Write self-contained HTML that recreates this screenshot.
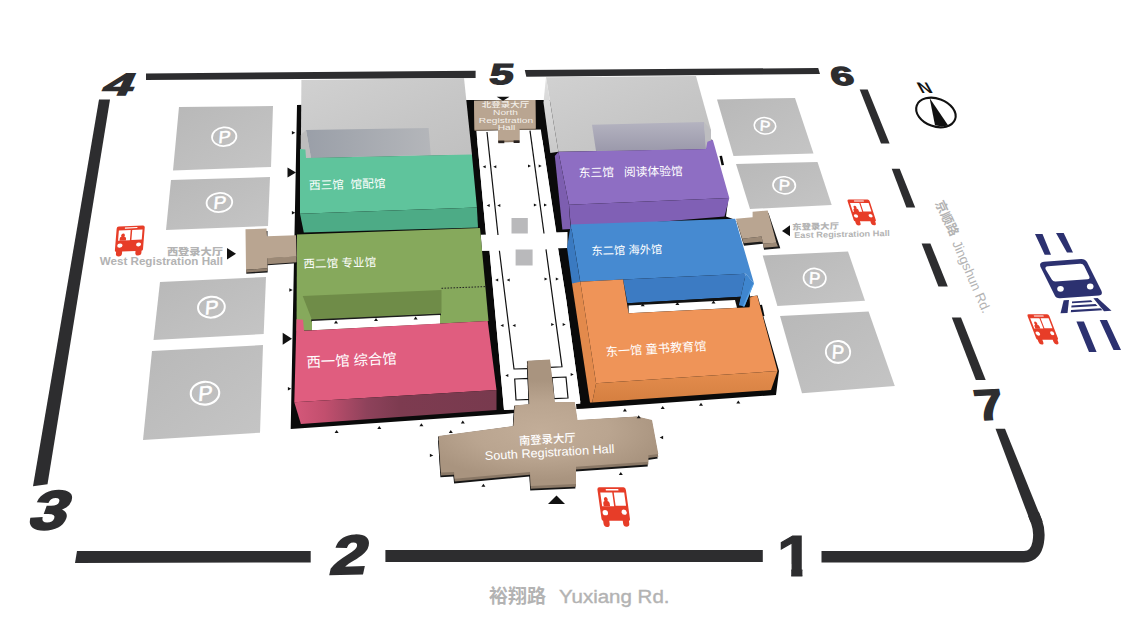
<!DOCTYPE html>
<html lang="zh">
<head>
<meta charset="utf-8">
<title>Venue Map</title>
<style>
html,body{margin:0;padding:0;background:#fff;}
body{width:1133px;height:637px;overflow:hidden;position:relative;}
svg{position:absolute;left:0;top:0;display:block;}
text{font-family:"Liberation Sans","Noto Sans CJK SC",sans-serif;}
.cn{font-family:"Liberation Sans","Noto Sans CJK SC",sans-serif;font-weight:400;fill:#fff;}
.num{font-family:"Liberation Sans",sans-serif;font-weight:700;fill:#2d2d2f;stroke:#2d2d2f;stroke-width:1.3px;}
text{white-space:pre;}
.gr{fill:#b3b3b3;}
</style>
</head>
<body>
<svg width="1133" height="637" viewBox="0 0 1133 637">
<defs>
  <linearGradient id="gPark" x1="0" y1="0" x2="1" y2="1">
    <stop offset="0" stop-color="#b8b8b8"/><stop offset="1" stop-color="#c5c5c5"/>
  </linearGradient>
  <linearGradient id="gPink" x1="0" y1="0" x2="1" y2="0">
    <stop offset="0" stop-color="#d5587a"/><stop offset="0.15" stop-color="#c24f6e"/><stop offset="0.36" stop-color="#8e425b"/><stop offset="0.52" stop-color="#7d3b50"/><stop offset="1" stop-color="#783a4e"/>
  </linearGradient>
  <linearGradient id="gRecW" x1="0" y1="0" x2="1" y2="0">
    <stop offset="0" stop-color="#9a9fa8"/><stop offset="1" stop-color="#b4b6ba"/>
  </linearGradient>
  <linearGradient id="gRecE" x1="0" y1="0" x2="0" y2="1">
    <stop offset="0" stop-color="#b4b3c0"/><stop offset="1" stop-color="#9b99ab"/>
  </linearGradient>
  <linearGradient id="gGrey" x1="0" y1="0" x2="1" y2="1">
    <stop offset="0" stop-color="#d1d1d1"/><stop offset="0.6" stop-color="#c6c6c6"/><stop offset="1" stop-color="#c0c0c0"/>
  </linearGradient>
  <linearGradient id="gOr" x1="0" y1="0" x2="0" y2="1">
    <stop offset="0" stop-color="#e48d4e"/><stop offset="1" stop-color="#d57f40"/>
  </linearGradient>
  <radialGradient id="gTan" gradientUnits="userSpaceOnUse" cx="540" cy="430" r="125" gradientTransform="translate(0,258) scale(1,0.4)">
    <stop offset="0" stop-color="#c2ad98"/><stop offset="0.55" stop-color="#baa590"/><stop offset="1" stop-color="#a9947f"/>
  </radialGradient>
  <linearGradient id="gWall" x1="0" y1="0" x2="0" y2="1">
    <stop offset="0" stop-color="#e0e0e0"/><stop offset="1" stop-color="#c9c9c9"/>
  </linearGradient>
  <symbol id="bus" viewBox="0 0 40 40" overflow="visible">
    <path fill="#e73d28" d="M5.5,0.6 L32.5,0.6 Q34.8,0.6 34.8,2.8 L34.8,26 Q34.8,27.5 33.3,27.5 L33.3,29.8 Q33.3,32.4 29.8,32.4 Q26.5,32.4 26.5,29.8 L26.5,27.5 L11.5,27.5 L11.5,29.8 Q11.5,32.6 8,32.6 Q4.7,32.6 4.7,29.8 L4.7,27.5 Q3.2,27.5 3.2,26 L3.2,2.8 Q3.2,0.6 5.5,0.6 Z"/>
    <path fill="#fff" d="M5.9,4.8 L19.2,4.8 L19.2,15.8 L5.9,15.8 Z M20.9,4.8 L32.5,4.8 L32.5,15.5 L20.9,15.5 Z M12.5,1.9 L26.5,1.9 L26.5,3.1 L12.5,3.1 Z"/>
    <path fill="#e73d28" d="M7.6,15.9 L7.6,13.4 Q7.6,11.9 9.4,11.7 Q8.7,10.8 9,9.7 Q9.6,8.3 11.1,8.3 Q12.7,8.4 13.1,9.9 Q13.2,10.9 12.6,11.7 Q14.6,11.9 14.7,13.4 L14.7,15.9 Z"/>
    <ellipse fill="#fff" cx="8.4" cy="21" rx="3" ry="2.2"/>
    <ellipse fill="#fff" cx="29.4" cy="20.6" rx="2.8" ry="2.1"/>
  </symbol>
  <g id="pk">
    <ellipse cx="0" cy="0" rx="12.2" ry="9.5" fill="none" stroke="#fff" stroke-width="1.8"/>
    <text transform="translate(-0.6,6) skewX(-10) scale(1.08,1)" text-anchor="middle" font-size="17" fill="#fff" stroke="#fff" stroke-width="0.5" style="font-family:'Liberation Sans',sans-serif">P</text>
  </g>
  <g id="pkE">
    <ellipse cx="0" cy="0" rx="12.2" ry="9.5" fill="none" stroke="#fff" stroke-width="1.8"/>
    <text transform="translate(0.4,6) skewX(3) scale(1.08,1)" text-anchor="middle" font-size="17" fill="#fff" stroke="#fff" stroke-width="0.5" style="font-family:'Liberation Sans',sans-serif">P</text>
  </g>
</defs>

<!-- ============ boundary roads ============ -->
<g fill="#2d2d2f">
  <polygon points="146,73.5 475.6,70.8 475.6,78 146,80"/>
  <polygon points="524.8,70 818.2,68 820,74 526.3,76.7"/>
  <polygon points="99,99.6 110,99.6 47.5,484.3 33,486.3"/>
  <polygon points="77,551 310.7,551 310.7,562.5 75,563"/>
  <polygon points="385.4,550 762.8,550 762.8,562 385.4,562"/>
  <polygon points="859.7,89.5 867.7,89.5 889.6,143.4 881,143.4"/>
  <polygon points="891.7,168.8 899.7,168.8 915.2,207.5 906.4,207.5"/>
  <polygon points="921.6,243.4 930.4,243.4 947.8,286.6 938.4,286.6"/>
  <polygon points="951.8,317.6 961,317.6 985.7,380 975.8,380"/>
</g>
<polygon points="995.5,428.7 1005,428.7 1042.6,521.8 1030.4,521.8" fill="#2d2d2f"/>
<path d="M1033.5,513.8 L1036.6,521.8 C1040,531 1041.5,556.7 1024,556.7 L821.5,556.7" fill="none" stroke="#2d2d2f" stroke-width="11.5" stroke-linejoin="round"/>

<!-- ============ parking lots ============ -->
<g fill="url(#gPark)">
  <polygon points="179,107 273,106 271,167 173,170.6"/>
  <polygon points="171,180 270,177 268,226 166,230"/>
  <polygon points="160,282 266,277 263.7,334 153.5,340"/>
  <polygon points="152,351 263,345 260,432.7 143,440"/>
  <polygon points="717,99.4 795,98 813.5,153.5 733.5,156"/>
  <polygon points="736,164 817.5,162 831.7,205 750,209"/>
  <polygon points="762.7,255.4 848,251.4 865,300.7 777.4,306"/>
  <polygon points="780,316 868.6,311.4 894.8,386 802,393.3"/>
</g>
<use href="#pk" transform="translate(224.2,136.7) rotate(-5) scale(1,0.98)"/>
<use href="#pk" transform="translate(219.4,202.5) rotate(-5) scale(1.05,1)"/>
<use href="#pk" transform="translate(211.4,307.2) rotate(-5) scale(1.1,1.1)"/>
<use href="#pk" transform="translate(205.0,393.2) rotate(-5) scale(1.17,1.2)"/>
<use href="#pkE" transform="translate(765.0,125.8) rotate(6) scale(0.88,0.86)"/>
<use href="#pkE" transform="translate(784.2,185.3) rotate(6) scale(0.92,0.9)"/>
<use href="#pkE" transform="translate(814.7,278.0) rotate(6) scale(0.92,1.0)"/>
<use href="#pkE" transform="translate(838.0,351.9) rotate(6) scale(1.0,1.15)"/>

<!-- ============ black bases ============ -->
<g fill="#0a0a0a">
  <polygon points="297,105 466.5,100 474.2,100.8 476.3,130.7 486,235 482,250.7 489.5,250.7 494,300 504,410 514,409.4 514,413 505,414 290.7,429"/>
  <polygon points="466.5,100 545,100 551,140 470,140"/>
  <polygon points="535,100 700,100 728.3,199 726,216.5 733,219 744,273 749,284 750,296.5 757.5,295.6 779,371 776,395 582.7,408.7 576.5,409 576,404 580.3,403.8 580.3,402 566.3,300 558,248 556.3,232 540.8,129.4 535.4,129"/>
  <polygon points="719.5,156 722,155.8 724,165 721.5,165.3"/>
  <polygon points="759.8,305 762,304.8 764.5,316 762.3,316.3"/>
</g>
<!-- corridor whites -->
<g fill="#fff">
  <polygon points="476.3,130.7 540.8,129.4 556.5,235 486,235"/>
  <polygon points="480.7,234.7 567.5,232 567.5,248 482,250.7"/>
  <polygon points="489.5,250.7 558,248 566.3,300 580.3,402 576,404 514,409.4 504,410 494,300"/>
</g>
<!-- corridor inner lines -->
<g fill="none" stroke="#111" stroke-width="1.2">
  <path d="M487,132 L498,235"/>
  <path d="M530,130.7 L544,233.5"/>
  <path d="M499.4,250.7 L514,369 L528,368.6"/>
  <path d="M546,249.4 L562,366.8 L550,367.4"/>
</g>
<rect x="511.5" y="218" width="16.3" height="15.5" fill="#b9b9bb"/>
<rect x="515.6" y="249.5" width="17" height="16" fill="#b9b9bb"/>
<g fill="#fff" stroke="#111" stroke-width="1.2">
  <polygon points="514.7,379 529.4,378.4 530.5,399.4 516,400"/>
  <polygon points="552,377.6 566,377 568,398 554,398.7"/>
</g>

<!-- ============ west grey building ============ -->
<polygon points="301.4,80 464,78 472,155 300.8,158" fill="url(#gGrey)"/>
<polygon points="306,130 428.6,128 430.8,155 311,158" fill="url(#gRecW)"/>
<polygon points="300.8,135 306,130 311,158 300.8,158" fill="#bdbdbd"/>

<!-- W3 -->
<polygon points="300,149 305.4,149.4 306,158 471.9,154.4 476.9,207.5 300,213.8" fill="#5fc49c"/>
<polygon points="300,213.8 476.9,207.5 478,227.5 303.8,232.6" fill="#4dab86"/>
<!-- W2 -->
<polygon points="297,234.5 480,228 488.5,321 296.5,331" fill="#86a95c"/>
<polygon points="302.7,296 441.5,290 441.5,313 312,320" fill="#6f8c48"/>
<polygon points="311,319.6 441,313.4 441,315.2 311.4,321.4" fill="#1c1c1c"/>
<polygon points="312,320.9 440,315 440,323.7 312,330.3" fill="#fff"/>
<path d="M441.5,288.3 L485.5,286.6" stroke="#222" stroke-width="1" stroke-dasharray="1.6,1.4" fill="none"/>
<!-- W1 -->
<polygon points="296.5,319.3 303,319.8 304,330.8 487.7,320.9 496.5,390 294.3,402.2" fill="#e05d7f"/>
<polygon points="294.3,402.2 496.5,390 496.5,410 300.9,424" fill="url(#gPink)"/>

<!-- ============ east grey building ============ -->
<polygon points="546,77.3 696,76 711,130 711,142 706,149 558.4,151.7" fill="url(#gGrey)"/>
<polygon points="546,77.3 558.4,151.7 550.3,153 543.5,102.4" fill="url(#gWall)"/>
<polygon points="592,124.7 704,122 706,149 596,151" fill="url(#gRecE)"/>
<polygon points="704,122 711,130 711,142 706,149" fill="#bdbdc0"/>
<!-- E3 -->
<polygon points="558.4,151.7 706,149 707.4,141.7 712.8,139.7 729.3,198 569,204.8" fill="#8e6ec3"/>
<polygon points="569,204.8 729.3,198 724.5,216.5 571,229" fill="#8060b5"/>
<polygon points="554.8,156 558.4,151.7 569,204.8 570.5,228.9 562.4,229.4" fill="#7d5eb0"/>
<!-- E2 -->
<polygon points="570.8,224.6 735.2,218.7 754,283.3 745.8,273.8 623,279.6 580.3,281.8" fill="#468ad1"/>
<polygon points="570.8,224.6 567,247.5 572,284 580.3,282.5" fill="#3a7ac1"/>
<polygon points="623,279.6 745.8,273.8 740.7,296.7 627.5,303.3" fill="#3c7bc3"/>
<polygon points="745.8,273.8 754,283.3 744.5,306.5 738.9,305.2 740.7,296.7" fill="#3f86cf"/>
<polygon points="752,285.8 754,283.3 744.5,306.5 742.7,306.5" fill="#5aa6e8"/>
<polygon points="749.6,297.5 755.2,296 756.5,305 750,306.5" fill="#d98548"/>
<polygon points="627,303.3 740.7,296.7 737.4,307.7 628.6,313.2" fill="#111"/>
<polygon points="628.6,305.5 735,300 737,307.7 628.6,313.2" fill="#fff"/>
<!-- E1 -->
<polygon points="580.3,281.8 623,279.6 628.6,313.2 749.5,307.3 751.7,296.7 757.2,295.6 777.5,371 596.1,383.2" fill="#ef9458"/>
<polygon points="596.1,383.2 777.5,371 771,390 592.2,402.5" fill="url(#gOr)"/>
<polygon points="572,283.5 580.3,281.8 596.1,383.2 592.2,402.5 590,402.6" fill="#e38a4c"/>

<!-- ============ tan halls ============ -->
<!-- north -->
<polygon points="474,100.8 535.4,100 535.7,129.4 519.4,129.7 519.4,142 498,142.4 498,130.2 474.5,130.7" fill="#8e7b68"/>
<polygon points="474,100.8 535.4,100 535.7,128.4 519.4,128.7 519.4,140.3 498,140.7 498,129.2 474.5,129.7" fill="#b9a591"/>
<rect x="498.3" y="140.6" width="6" height="2.6" fill="#2a2320"/><rect x="513.6" y="140.4" width="6" height="2.6" fill="#2a2320"/>
<!-- west -->
<polygon points="246,232 267.5,231 267.5,240 296.5,239 296.5,263.3 267.6,265.3 267.7,272.6 246.3,273.8" fill="#1a1a1a"/>
<polygon points="267.3,258 296.5,256.3 296.5,262.3 267.4,264.3" fill="#9c8976"/>
<polygon points="245.5,229.3 266.5,228.5 267,236.2 296,235.2 296.5,256.5 267.3,258.2 267.5,268.3 246,269.8" fill="#b9a591"/>
<polygon points="246,269.8 267.5,268.3 267.5,271 246.1,272.4" fill="#8f7d6b"/>
<!-- east -->
<polygon points="736.5,221 753,219.5 753,214 768.5,213 780.3,248.2 764,249.8 763,243.8 744,245.8 742.5,241" fill="#1a1a1a"/>
<polygon points="742.2,238.7 761.6,236.6 762.9,243.5 776.4,242.7 778,246.6 763.6,247.8 762.6,241.4 743.6,243.2" fill="#9c8976"/>
<polygon points="735.9,218.8 752.6,217.2 752.6,211.7 767.7,210.6 776.4,242.7 762.9,243.5 761.6,236.6 742.2,238.7" fill="#b9a591"/>
<!-- south -->
<polygon points="526.9,365.4 549.4,364.1 554.2,406.6 574.2,406.6 576.9,424.6 636.4,421.0 651.4,424.6 657.7,458.6 647.7,459.9 647.7,466.4 575.4,471.4 575.4,488.6 530.2,490.6 529.4,476.6 454.1,483.4 453.4,476.6 440.4,477.2 438.1,440.6 512.8,430.6 514.1,410.0 528.8,408.6" fill="#151515"/>
<polygon points="526.9,361.2 549.4,359.9 554.2,402.4 574.2,402.4 576.9,420.4 636.4,416.8 651.4,420.4 657.7,454.4 647.7,455.7 647.7,462.2 575.4,467.2 575.4,484.4 530.2,486.4 529.4,472.4 454.1,479.2 453.4,472.4 440.4,473.0 438.1,436.4 512.8,426.4 514.1,405.8 528.8,404.4" fill="#151515"/>
<polygon points="527.5,363.6 550.0,362.3 554.8,404.8 574.8,404.8 577.5,422.8 637.0,419.2 652.0,422.8 658.3,456.8 648.3,458.1 648.3,464.6 576.0,469.6 576.0,486.8 530.8,488.8 530.0,474.8 454.7,481.6 454.0,474.8 441.0,475.4 438.7,438.8 513.4,428.8 514.7,408.2 529.4,406.8" fill="#8a7866"/>
<polygon points="527.5,360.8 550.0,359.5 554.8,402.0 574.8,402.0 577.5,420.0 637.0,416.4 652.0,420.0 658.3,454.0 648.3,455.3 648.3,461.8 576.0,466.8 576.0,484.0 530.8,486.0 530.0,472.0 454.7,478.8 454.0,472.0 441.0,472.6 438.7,436.0 513.4,426.0 514.7,405.4 529.4,404.0" fill="url(#gTan)"/>

<!-- ============ arrows ============ -->
<g fill="#111">
  <polygon points="287.5,167.4 296,172.5 287.5,177.6"/>
  <polygon points="282.7,332.8 292,338.8 282.7,344.8"/>
  <polygon points="227,248 236,253.8 227,259.5"/>
  <polygon points="790,225.2 782,231 790,236.2"/>
  <polygon points="496.7,96.7 509.5,96.7 503,100.7"/>
  <polygon points="556.5,495.4 565,504 548,504"/>
</g>

<!-- small arrows -->
<g fill="#111">
<polygon points="291.9,131.0 295.3,132.7 291.9,134.4"/>
<polygon points="291.9,211.1 295.3,212.8 291.9,214.5"/>
<polygon points="289.3,288.3 292.7,290.0 289.3,291.7"/>
<polygon points="287.9,387.0 291.3,388.7 287.9,390.4"/>
<polygon points="334.6,432.9 336.6,429.9 338.6,432.9"/>
<polygon points="377.3,428.9 379.3,425.9 381.3,428.9"/>
<polygon points="419.4,426.2 421.4,423.2 423.4,426.2"/>
<polygon points="460.8,423.5 462.8,420.5 464.8,423.5"/>
<polygon points="448.8,432.9 450.8,429.9 452.8,432.9"/>
<polygon points="481.4,486.8 483.4,483.8 485.4,486.8"/>
<polygon points="622.9,411.5 624.9,408.5 626.9,411.5"/>
<polygon points="660.7,408.9 662.7,405.9 664.7,408.9"/>
<polygon points="699.0,405.7 701.0,402.7 703.0,405.7"/>
<polygon points="736.3,403.5 738.3,400.5 740.3,403.5"/>
<polygon points="636.7,418.2 638.7,415.2 640.7,418.2"/>
<polygon points="618.8,475.0 620.8,472.0 622.8,475.0"/>
<polygon points="334.0,323.5 336.0,320.5 338.0,323.5"/>
<polygon points="374.0,320.9 376.0,317.9 378.0,320.9"/>
<polygon points="413.6,319.5 415.6,316.5 417.6,319.5"/>
<polygon points="640.7,306.2 642.7,303.2 644.7,306.2"/>
<polygon points="675.4,304.9 677.4,301.9 679.4,304.9"/>
<polygon points="711.5,303.5 713.5,300.5 715.5,303.5"/>
<polygon points="429.9,453.7 433.3,455.4 429.9,457.1"/>
<polygon points="663.1,435.8 659.7,437.5 663.1,439.2"/>
<polygon points="485.7,165.2 482.7,166.7 485.7,168.2"/>
<polygon points="496.3,165.2 493.3,166.7 496.3,168.2"/>
<polygon points="489.7,203.9 486.7,205.4 489.7,206.9"/>
<polygon points="500.3,203.9 497.3,205.4 500.3,206.9"/>
<polygon points="498.2,278.5 495.2,280.0 498.2,281.5"/>
<polygon points="509.7,278.5 506.7,280.0 509.7,281.5"/>
<polygon points="503.5,323.9 500.5,325.4 503.5,326.9"/>
<polygon points="515.5,323.9 512.5,325.4 515.5,326.9"/>
<polygon points="508.3,374.1 505.3,375.6 508.3,377.1"/>
<polygon points="528.0,164.5 531.0,166.0 528.0,167.5"/>
<polygon points="538.7,164.5 541.7,166.0 538.7,167.5"/>
<polygon points="533.9,203.5 536.9,205.0 533.9,206.5"/>
<polygon points="544.0,203.5 547.0,205.0 544.0,206.5"/>
<polygon points="544.5,277.5 547.5,279.0 544.5,280.5"/>
<polygon points="555.8,277.5 558.8,279.0 555.8,280.5"/>
<polygon points="551.2,323.0 554.2,324.5 551.2,326.0"/>
<polygon points="562.7,323.0 565.7,324.5 562.7,326.0"/>
<polygon points="570.7,373.1 573.7,374.6 570.7,376.1"/>
</g>

<!-- ============ numbers ============ -->
<text class="num" transform="translate(100,94.5) skewX(-25) scale(1.75,1)" font-size="31">4</text>
<text class="num" transform="translate(488.2,84) skewX(-9) scale(1.5,1)" font-size="29">5</text>
<text class="num" transform="translate(832.4,84.6) skewX(12) scale(1.6,1)" font-size="25.8">6</text>
<text class="num" transform="translate(977.6,420.6) rotate(-3) skewX(8) scale(1.2,1)" font-size="43.5">7</text>
<clipPath id="c1"><polygon points="770,520 815,520 815,564 802.4,564 802.4,590 791.2,590 791.2,564 770,564"/></clipPath>
<g clip-path="url(#c1)"><text class="num" transform="translate(777,576) scale(1.15,1)" font-size="56.5" style="stroke-width:1.2px">1</text></g>
<text class="num" transform="translate(328.6,574.2) rotate(-1.5) skewX(-14) scale(1.19,1)" font-size="54.5" style="stroke-width:2.2px">2</text>
<text class="num" transform="translate(26.2,529.2) skewX(-20) scale(1.23,1)" font-size="54.5" style="stroke-width:2.2px">3</text>

<!-- ============ hall labels ============ -->
<text class="cn" transform="translate(309,189.5) rotate(-1.5)" font-size="11.7">西三馆  馆配馆</text>
<text class="cn" transform="translate(303.5,268) rotate(-1.5)" font-size="11.6">西二馆 专业馆</text>
<text class="cn" transform="translate(306.7,367.5) rotate(-2.5)" font-size="14.4">西一馆 综合馆</text>
<text class="cn" transform="translate(578.7,177) rotate(-1)" font-size="11.8">东三馆   阅读体验馆</text>
<text class="cn" transform="translate(591.5,255) rotate(-1.5)" font-size="11.3">东二馆 海外馆</text>
<text class="cn" transform="translate(606,356.3) rotate(-3.5)" font-size="12.2">东一馆 童书教育馆</text>

<text class="cn" transform="translate(547.5,443.3) rotate(-3.2)" font-size="11.3" text-anchor="middle" style="font-weight:500">南登录大厅</text>
<text transform="translate(549.8,456.5) rotate(-3.2) scale(1.04,1)" font-size="12.2" text-anchor="middle" fill="#fff">South Registration Hall</text>

<g fill="#f3efe9" text-anchor="middle" style="font-size:7.5px">
  <text transform="translate(505.5,107) scale(1.3,1)" class="cn" style="font-weight:500;font-size:7.3px;fill:#f3efe9">北登录大厅</text>
  <text transform="translate(505.5,115.1) scale(1.36,1)">North</text>
  <text transform="translate(506,122.5) scale(1.36,1)">Registration</text>
  <text transform="translate(506.5,130.1) scale(1.36,1)">Hall</text>
</g>

<text class="gr" transform="translate(223,254.8) scale(1.17,1)" text-anchor="end" font-size="9.6" font-weight="900">西登录大厅</text>
<text class="gr" transform="translate(223,265.4) scale(1.1,1)" text-anchor="end" font-size="10.6" font-weight="700">West Registration Hall</text>
<text class="gr" transform="translate(792.3,229.9) rotate(-1.3) scale(1.14,1)" font-size="8.2" font-weight="900">东登录大厅</text>
<text class="gr" transform="translate(794.2,238.1) rotate(-1.3) scale(1.13,1)" font-size="8.2" font-weight="700">East Registration Hall</text>

<text class="gr" x="489" y="603.3" font-size="19" font-weight="700">裕翔路</text>
<text class="gr" transform="translate(559,603.3) scale(1.09,1)" font-size="18.8" font-weight="400" stroke="#b3b3b3" stroke-width="0.4">Yuxiang Rd.</text>
<text class="gr" transform="translate(935,203) rotate(65)" font-size="12.6" font-weight="700">京顺路</text>
<text class="gr" transform="translate(952,243) rotate(66.5)" font-size="13.3">Jingshun Rd.</text>

<!-- ============ compass ============ -->
<g transform="translate(935.9,112.5) rotate(20)">
  <ellipse cx="0" cy="0" rx="20.4" ry="13.9" fill="none" stroke="#111" stroke-width="2.1"/>
</g>
<polygon points="929.6,98 948.2,125.4 942,126.6 935,125.3" fill="#111"/>
<text transform="translate(921.2,92.7) skewX(29) scale(1.13,1)" font-size="15.4" font-weight="700" fill="#111">N</text>

<!-- ============ buses ============ -->
<use href="#bus" x="0" y="0" width="40" height="40" transform="translate(114,226.2) rotate(-2.4) skewX(-7) scale(0.89,0.935)"/>
<use href="#bus" x="0" y="0" width="40" height="40" transform="translate(594.1,486.6) skewX(8) scale(0.9,1.24)"/>
<use href="#bus" x="0" y="0" width="40" height="40" transform="translate(844.6,199) skewX(18) scale(0.7,0.81)"/>
<use href="#bus" x="0" y="0" width="40" height="40" transform="translate(1024.4,313.6) skewX(21) scale(0.69,0.95)"/>

<!-- ============ train ============ -->
<g fill="#2c3170">
  <polygon points="1035,234 1042.5,234 1051,254.7 1044.7,254.7"/>
  <polygon points="1056,233 1063.7,233 1073,252.5 1067,252.5"/>
  <polygon points="1076.4,321.4 1083.9,321.4 1096.6,352 1089,352"/>
  <polygon points="1099.7,320 1107,320 1121,350 1113.5,350"/>
  <path d="M1044,261.8 L1081,259 Q1085,258.8 1087,262 L1101.5,291 Q1103,295 1099,295.5 L1060,298.3 Q1056,298.5 1054.5,295 L1040.3,266.5 Q1039,262.2 1044,261.8 Z"/>
  <polygon points="1063.7,300.2 1069,300 1067.5,313 1060.5,313.3"/>
  <polygon points="1093.4,298.2 1097.6,297.9 1111.5,310.7 1104,311.2"/>
  <polygon points="1072,301.5 1091,300.3 1092.5,302 1072,303.2"/>
  <polygon points="1071.5,305.5 1095.5,304 1097.5,306 1071.3,307.6"/>
  <polygon points="1071,310 1100.5,308.2 1102.5,310.2 1070.8,312.2"/>
</g>
<path d="M1048,266.3 L1080,263.8 Q1083,263.6 1084.2,266 L1089.3,276.5 Q1090.3,279 1087.5,279.3 L1055.5,281.6 Q1053,281.8 1051.8,279.5 L1045.6,269.3 Q1044.6,266.6 1048,266.3 Z" fill="#fff"/>
<ellipse cx="1060.5" cy="288.8" rx="3.3" ry="2.9" fill="#fff"/>
<ellipse cx="1090.2" cy="286.5" rx="3.3" ry="2.9" fill="#fff"/>

</svg>
</body>
</html>
